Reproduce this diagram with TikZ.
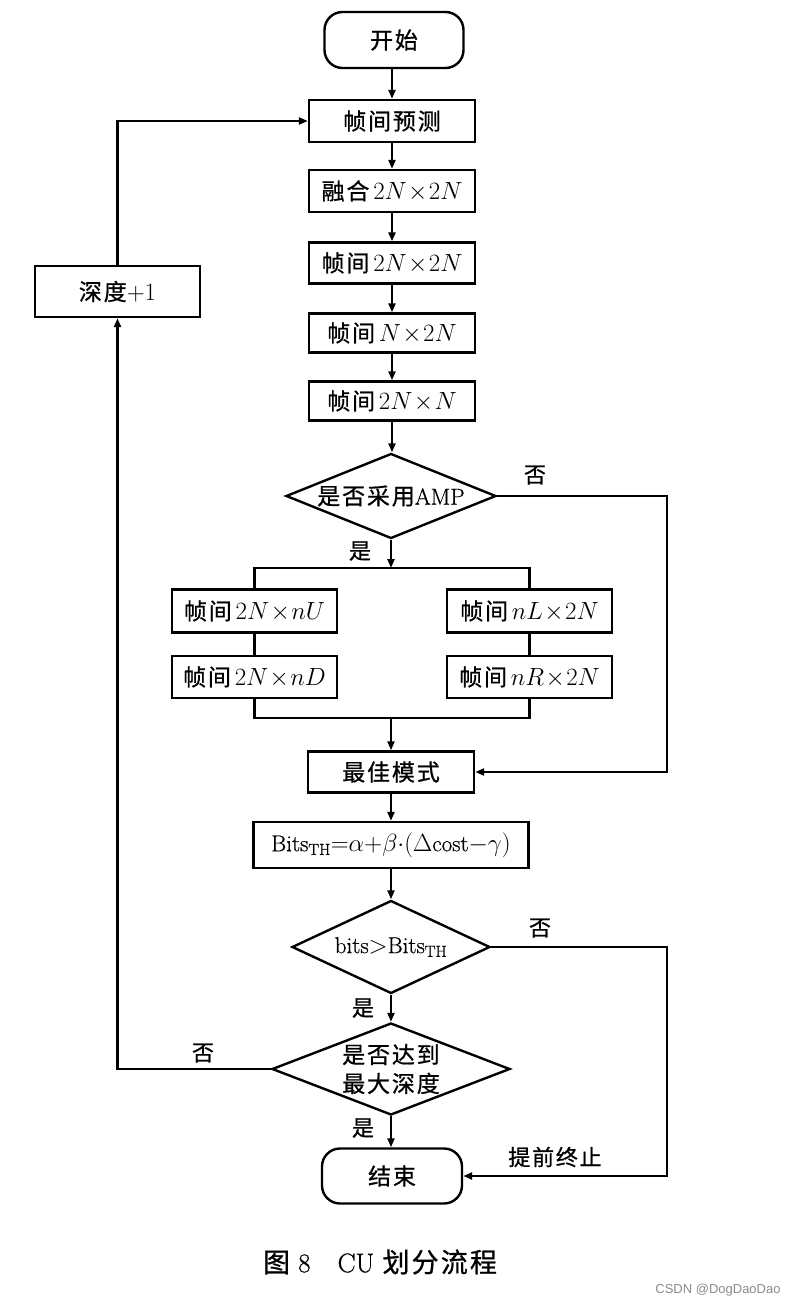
\documentclass[tikz,border=0pt]{standalone}
\usepackage{fontspec}
\setmainfont{Latin Modern Roman}[FakeBold=0.6]
\newfontfamily\cjk[LetterSpace=8,FakeBold=0.8]{Noto Sans CJK SC}
\newfontfamily\wmfont{Liberation Sans}
\usetikzlibrary{shapes.geometric,arrows.meta}
\begin{document}
\begin{tikzpicture}[x=1pt,y=-1pt,
 every node/.style={font=\fontsize{23}{28}\selectfont},
 box/.style={draw,line width=2.4pt,minimum width=166pt,minimum height=42pt,inner sep=0pt},
 term/.style={draw,line width=2.4pt,rounded corners=18pt,minimum width=139pt,minimum height=56pt,inner sep=0pt},
 dia/.style={draw,line width=2.4pt,diamond,inner sep=0pt},
 lbl/.style={inner sep=0pt},
 arr/.style={line width=2.4pt,-{Triangle[length=9pt,width=7pt]}},
 ln/.style={line width=2.4pt}]
\useasboundingbox (0,0) rectangle (798,1306);
\fill[white] (0,0) rectangle (798,1306);

% main column
\node[term] (start) at (394,40) {\cjk 开始};
\node[box] (b1) at (392,121) {\cjk 帧间预测};
\node[box,minimum height=42pt] (b2) at (392,191) {{\cjk 融合}\,$2N\!\times\!2N$};
\node[box,minimum height=41pt] (b3) at (392,263) {{\cjk 帧间}\,$2N\!\times\!2N$};
\node[box,minimum height=39pt] (b4) at (392,333) {{\cjk 帧间}\,$N\!\times\!2N$};
\node[box,minimum height=39pt] (b5) at (392,401) {{\cjk 帧间}\,$2N\!\times\!N$};

\node[dia,minimum width=210pt,minimum height=85pt] (d1) at (391,496) {};
\node[lbl] (d1t) at (391,496) {{\cjk 是否采用}AMP};

\coordinate (j1) at (391,568);
\node[box,minimum width=165pt,minimum height=43pt] (L1) at (254.5,611) {{\cjk 帧间}\,$2N\!\times\! nU$};
\node[box,minimum width=165pt,minimum height=42pt] (L2) at (254.5,677) {{\cjk 帧间}\,$2N\!\times\! nD$};
\node[box,minimum width=165pt,minimum height=43pt] (R1) at (529.5,611) {{\cjk 帧间}\,$nL\!\times\!2N$};
\node[box,minimum width=165pt,minimum height=42pt] (R2) at (529.5,677) {{\cjk 帧间}\,$nR\!\times\!2N$};
\coordinate (j2) at (391,718);

\node[box,minimum height=41pt] (best) at (391,772) {\cjk 最佳模式};
\node[box,minimum width=275pt,minimum height=46pt] (bits) at (391,845)
  {$\mathrm{Bits}_{\mathrm{TH}}{=}\alpha{+}\beta{\cdot}(\Delta\mathrm{cost}{-}\gamma)$};

\node[dia,minimum width=198pt,minimum height=93pt] (d2) at (391,947) {};
\node[lbl] (d2t) at (391,947) {$\mathrm{bits}{>}\mathrm{Bits}_{\mathrm{TH}}$};

\node[dia,minimum width=238pt,minimum height=92pt] (d3) at (391,1069) {};
\node[lbl,align=center,font=\fontsize{23}{29}\selectfont\cjk] (d3t) at (391,1069) {是否达到\\最大深度};

\node[term,minimum width=140pt,minimum height=55pt] (end) at (392,1176) {\cjk 结束};

\node[box,minimum width=165pt,minimum height=51pt] (depth) at (117.5,291.5) {{\cjk 深度}$+1$};

% coordinates for routing
\coordinate (rA) at (667,496);
\coordinate (rB) at (667,947);
\coordinate (lA) at (117.5,1069);

% connectors
\draw[arr] (start.south -| b1.north) -- (b1.north);
\draw[arr] (b1) -- (b2);
\draw[arr] (b2) -- (b3);
\draw[arr] (b3) -- (b4);
\draw[arr] (b4) -- (b5);
\draw[arr] (b5.south) -- (b5.south |- d1.north);
\draw[arr] (d1.south) -- (j1);
\draw[ln] (L1.north) |- (j1) -| (R1.north);
\draw[ln] (L1) -- (L2);
\draw[ln] (R1) -- (R2);
\draw[ln] (L2.south) |- (j2) -| (R2.south);
\draw[arr] (j2) -- (best);
\draw[arr] (d1.east) -- (rA) |- (best.east);
\draw[arr] (best) -- (bits);
\draw[arr] (bits.south) -- (bits.south |- d2.north);
\draw[arr] (d2.south) -- (d2.south |- d3.north);
\draw[arr] (d2.east) -- (rB) |- (end.east);
\draw[arr] (d3.south) -- (d3.south |- end.north);
\draw[arr] (d3.west) -- (lA) -- (depth.south);
\draw[arr] (depth.north) |- (b1.west);

% labels
\node[lbl,font=\fontsize{22}{26}\selectfont\cjk] (n1) at (535,475) {否};
\node[lbl,font=\fontsize{22}{26}\selectfont\cjk] (y1) at (360,551) {是};
\node[lbl,font=\fontsize{22}{26}\selectfont\cjk] (n2) at (540,928) {否};
\node[lbl,font=\fontsize{22}{26}\selectfont\cjk] (y2) at (363,1008) {是};
\node[lbl,font=\fontsize{22}{26}\selectfont\cjk] (n3) at (203,1053) {否};
\node[lbl,font=\fontsize{22}{26}\selectfont\cjk] (y3) at (363,1128) {是};
\node[lbl,font=\fontsize{22}{26}\selectfont\cjk] (early) at (555,1157) {提前终止};

% caption
\node[lbl,font=\fontsize{27}{32}\selectfont] (cap) at (380,1262) {{\cjk 图}\ 8\quad CU\ {\cjk 划分流程}};
\node[lbl,font=\fontsize{13}{15}\selectfont\wmfont,text=black!45] (wm) at (718,1290) {CSDN @DogDaoDao};
\end{tikzpicture}
\end{document}
